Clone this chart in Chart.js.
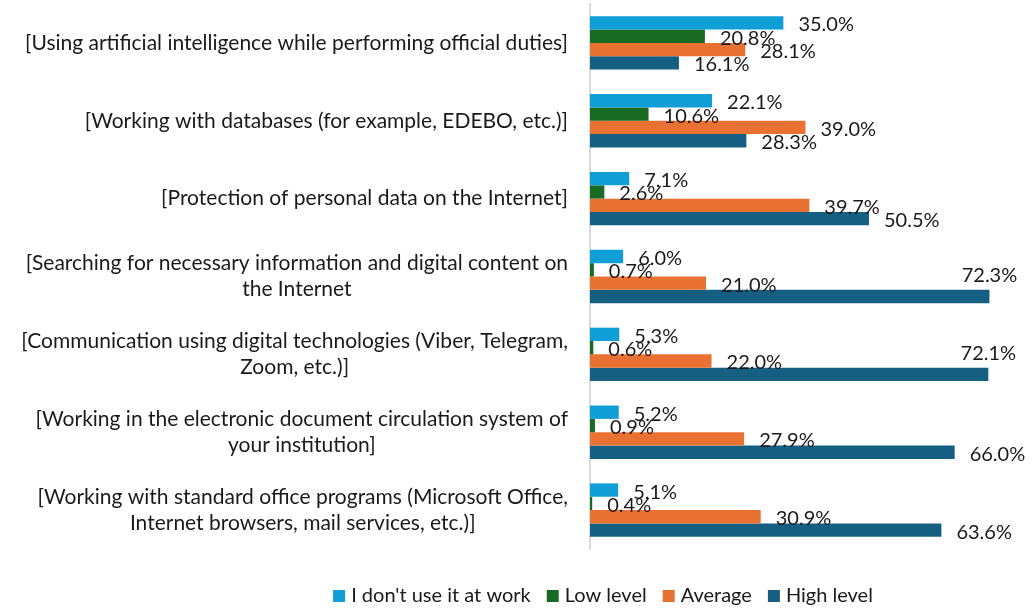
<!DOCTYPE html>
<html>
<head>
<meta charset="utf-8">
<script src="https://cdn.jsdelivr.net/npm/chart.js@4"></script>
<style>
  html, body { margin: 0; padding: 0; background: #fff; }
  #wrap { position: relative; width: 1033px; height: 608px; }
</style>
</head>
<body>
<div id="wrap"><canvas id="skillsChart"></canvas></div>
<script>
const categories = [
  '[Using artificial intelligence while performing official duties]',
  '[Working with databases (for example, EDEBO, etc.)]',
  '[Protection of personal data on the Internet]',
  ['[Searching for necessary information and digital content on', 'the Internet'],
  ['[Communication using digital technologies (Viber, Telegram,', 'Zoom, etc.)]'],
  ['[Working in the electronic document circulation system of', 'your institution]'],
  ['[Working with standard office programs (Microsoft Office,', 'Internet browsers, mail services, etc.)]']
];

const seriesNames = ["I don't use it at work", 'Low level', 'Average', 'High level'];
const notUsed = [35.0, 22.1, 7.1, 6.0, 5.3, 5.2, 5.1];
const lowLevel = [20.8, 10.6, 2.6, 0.7, 0.6, 0.9, 0.4];
const averageLevel = [28.1, 39.0, 39.7, 21.0, 22.0, 27.9, 30.9];
const highLevel = [16.1, 28.3, 50.5, 72.3, 72.1, 66.0, 63.6];
const seriesColors = ['#0F9ED5', '#196B24', '#E97132', '#156082'];

const FONT = 'Lato, "Noto Sans", sans-serif';
const TEXT_COLOR = '#1a1a1a';

// category names to the left of the axis, lines centred inside each block
const categoryLabels = {
  id: 'categoryLabels',
  afterDraw(chart) {
    const ctx = chart.ctx;
    const yScale = chart.scales.y;
    const rightEdge = chart.chartArea.left - 22;
    const lineH = 26;
    ctx.save();
    ctx.font = '21px ' + FONT;
    ctx.fillStyle = TEXT_COLOR;
    ctx.textAlign = 'center';
    ctx.textBaseline = 'middle';
    chart.data.labels.forEach((label, i) => {
      const lines = Array.isArray(label) ? label : [label];
      const maxW = Math.max(...lines.map(l => ctx.measureText(l).width));
      const cx = rightEdge - maxW / 2;
      const cy = yScale.getPixelForValue(i);
      const startY = cy - (lines.length - 1) * lineH / 2;
      lines.forEach((l, k) => ctx.fillText(l, cx, startY + k * lineH));
    });
    ctx.restore();
  }
};

// percentage labels next to bar ends
const valueLabels = {
  id: 'valueLabels',
  afterDatasetsDraw(chart) {
    const ctx = chart.ctx;
    const right = chart.chartArea.right;
    ctx.save();
    ctx.font = '20px ' + FONT;
    ctx.fillStyle = TEXT_COLOR;
    ctx.textBaseline = 'middle';
    chart.data.datasets.forEach((ds, di) => {
      chart.getDatasetMeta(di).data.forEach((bar, i) => {
        const text = ds.data[i].toFixed(1) + '%';
        const w = ctx.measureText(text).width;
        if (bar.x + 15 + w > right) {
          ctx.textAlign = 'center';
          ctx.fillText(text, bar.x, bar.y - 21);
        } else {
          ctx.textAlign = 'left';
          ctx.fillText(text, bar.x + 15, bar.y + 2);
        }
      });
    });
    ctx.restore();
  }
};

// legend row under the plot
const bottomLegend = {
  id: 'bottomLegend',
  afterDraw(chart) {
    const ctx = chart.ctx;
    const box = 12, gap = 6, spacing = 16;
    const y = 596;
    ctx.save();
    ctx.font = '20px ' + FONT;
    ctx.textBaseline = 'middle';
    ctx.textAlign = 'left';
    const items = chart.data.datasets.map(ds => ({
      text: ds.label, color: ds.backgroundColor, w: ctx.measureText(ds.label).width
    }));
    const total = items.reduce((s, it) => s + box + gap + it.w, 0) + spacing * (items.length - 1);
    let x = 603 - total / 2;
    items.forEach(it => {
      ctx.fillStyle = it.color;
      ctx.fillRect(x, y - box / 2, box, box);
      ctx.fillStyle = TEXT_COLOR;
      ctx.fillText(it.text, x + box + gap, y);
      x += box + gap + it.w + spacing;
    });
    ctx.restore();
  }
};

const seriesValues = [notUsed, lowLevel, averageLevel, highLevel];

new Chart(document.getElementById('skillsChart'), {
  type: 'bar',
  data: {
    labels: categories,
    datasets: seriesValues.map((vals, i) => ({
      label: seriesNames[i],
      data: vals,
      backgroundColor: seriesColors[i],
      borderWidth: 0,
      categoryPercentage: 0.685,
      barPercentage: 1.0
    }))
  },
  options: {
    indexAxis: 'y',
    responsive: true,
    maintainAspectRatio: false,
    animation: false,
    layout: { padding: { left: 590, right: 1, top: 4, bottom: 59 } },
    plugins: {
      legend: { display: false },
      tooltip: { enabled: false }
    },
    scales: {
      x: { display: false, min: 0, max: 80 },
      y: {
        display: true,
        grid: { display: false, drawTicks: false },
        ticks: { display: false },
        border: { display: true, color: '#d9d9d9', width: 2 }
      }
    }
  },
  plugins: [categoryLabels, valueLabels, bottomLegend]
});
</script>
</body>
</html>
